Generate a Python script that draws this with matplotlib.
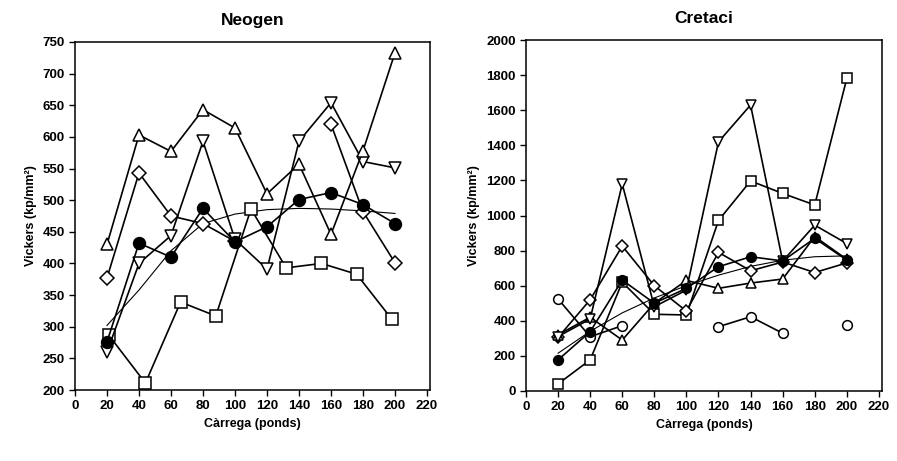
import numpy as np
import matplotlib
matplotlib.use("Agg")
import matplotlib.pyplot as plt

plt.rcParams['font.family'] = ['Liberation Sans', 'DejaVu Sans']
plt.rcParams['font.weight'] = 'bold'

# --------------------------------------------------------
# Data: Neogen
# --------------------------------------------------------
load = [20, 40, 60, 80, 100, 120, 140, 160, 180, 200]
neo_up = [430, 603, 577, 643, 614, 510, 557, 446, 578, 733]
neo_down = [260, 400, 444, 593, 438, 391, 593, 654, 561, 551]
neo_diamond = [377, 543, 475, 463, 435, np.nan, np.nan, 620, 482, 401]
neo_circle = [276, 432, 410, 487, 434, 458, 501, 512, 493, 463]
neo_sq_load = [21, 44, 66, 88, 110, 132, 154, 176, 198]
neo_square = [287, 211, 339, 317, 486, 393, 400, 383, 312]
neo_fit = [302, 358, 420, 463, 478, 485, 487, 486, 483, 479]

# --------------------------------------------------------
# Data: Cretaci
# --------------------------------------------------------
cre_up = [320, 420, 290, 500, 630, 585, 615, 638, 880, 750]
cre_down = [310, 410, 1180, 480, 575, 1420, 1630, 740, 945, 840]
cre_diamond = [305, 520, 826, 600, 455, 790, 685, 735, 675, 730]
cre_square = [40, 177, 620, 437, 433, 972, 1197, 1126, 1060, 1782]
cre_circle = [177, 338, 632, 500, 585, 708, 765, 741, 870, 746]
cre_open = [524, 309, 372, np.nan, np.nan, 366, 423, 329, np.nan, 376]
cre_fit = [215, 340, 445, 530, 600, 660, 710, 745, 765, 770]

fig = plt.figure(figsize=(8.97, 4.61), dpi=100)
ax1 = fig.add_axes([0.0836, 0.154, 0.396, 0.755])
ax2 = fig.add_axes([0.5864, 0.152, 0.397, 0.761])

mk = dict(color='black', lw=1.2, ms=8.5, mew=1.1, mfc='white', mec='black')

# Neogen
ax1.plot(load, neo_fit, color='black', lw=0.8)
ax1.plot(neo_sq_load, neo_square, marker='s', **mk)
ax1.plot(load, neo_diamond, marker='D', **dict(mk, ms=7))
ax1.plot(load, neo_down, marker='v', **mk)
ax1.plot(load, neo_up, marker='^', **mk)
ax1.plot(load, neo_circle, marker='o', **dict(mk, mfc='black'))

# Cretaci
ax2.plot(load, cre_fit, color='black', lw=0.8)
ax2.plot(load, cre_open, marker='o', **dict(mk, ms=7))
ax2.plot(load, cre_square, marker='s', **dict(mk, ms=7))
ax2.plot(load, cre_diamond, marker='D', **dict(mk, ms=6.5))
ax2.plot(load, cre_up, marker='^', **dict(mk, ms=7))
ax2.plot(load, cre_down, marker='v', **dict(mk, ms=7))
ax2.plot(load, cre_circle, marker='o', **dict(mk, ms=7, mfc='black'))

for ax, title in [(ax1, 'Neogen'), (ax2, 'Cretaci')]:
    ax.set_xlim(0, 222)
    ax.set_xticks(range(0, 221, 20))
    ax.set_title(title, fontsize=12.5, fontweight='bold', pad=12)
    ax.set_xlabel('Càrrega (ponds)', fontsize=9, fontweight='bold')
    ax.set_ylabel('Vickers (kp/mm²)', fontsize=9, fontweight='bold')
    ax.tick_params(direction='out', length=4, width=1, labelsize=9.5)
    for s in ax.spines.values():
        s.set_linewidth(1.1)

ax1.set_ylim(200, 750)
ax1.set_yticks(range(200, 751, 50))
ax2.set_ylim(0, 2000)
ax2.set_yticks(range(0, 2001, 200))

plt.savefig("out.png", dpi=100)
